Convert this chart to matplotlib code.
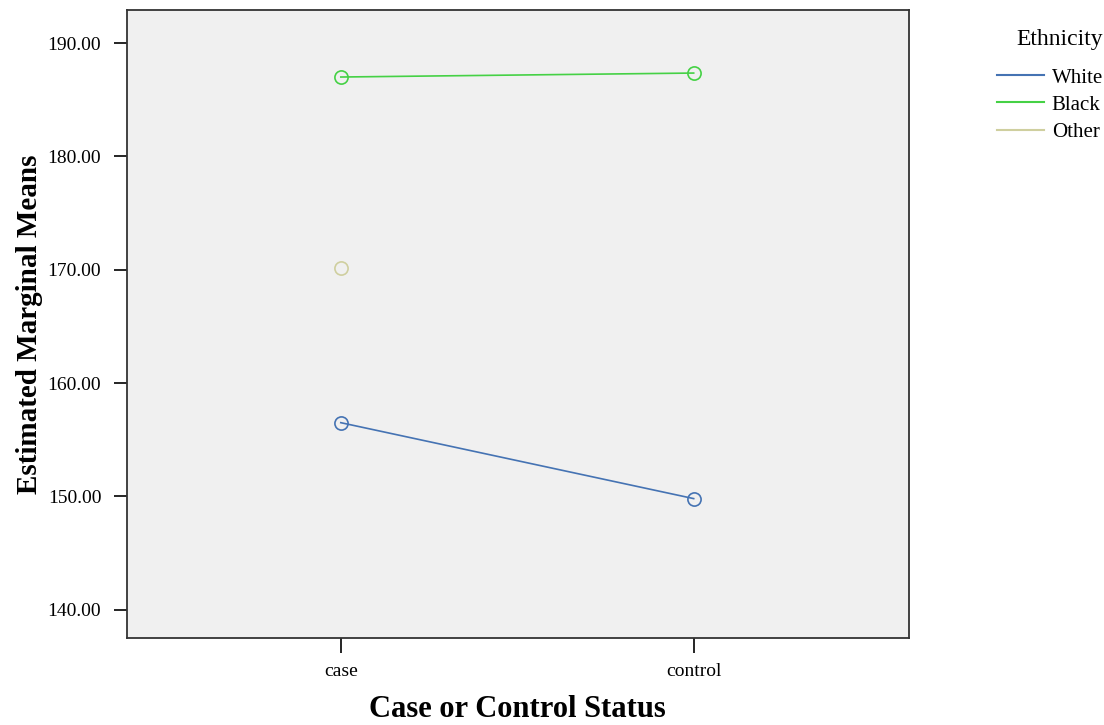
import matplotlib.pyplot as plt

# estimated marginal means
groups = ["case", "control"]
white = [156.5, 149.8]
black = [187.0, 187.35]
other = [170.15]
series_names = ["White", "Black", "Other"]
colors = ["#4573b3", "#45d145", "#cfcf9f"]

plt.rcParams['font.family'] = ['Liberation Serif', 'DejaVu Serif']

fig = plt.figure(figsize=(11.04, 7.25), dpi=100)
ax = fig.add_axes([0.115, 0.12, 0.708, 0.866])
ax.set_facecolor("#f0f0f0")

xs = list(range(len(groups)))
ax.plot(xs, white, color=colors[0], lw=1.2, marker="o", ms=9.5,
        mfc="none", mew=1.2, label=series_names[0])
ax.plot(xs, black, color=colors[1], lw=1.2, marker="o", ms=9.5,
        mfc="none", mew=1.2, label=series_names[1])
ax.plot(xs[:len(other)], other, color=colors[2], lw=1.2, marker="o", ms=9.5,
        mfc="none", mew=1.2, label=series_names[2])

ax.set_xlim(-0.606, 1.609)
ax.set_ylim(137.5, 192.9)
ax.set_xticks(xs)
ax.set_xticklabels(groups)
ax.set_yticks([140, 150, 160, 170, 180, 190])
ax.set_yticklabels(["%.2f" % v for v in [140, 150, 160, 170, 180, 190]])
ax.tick_params(direction="out", length=9.5, width=1.2, labelsize=14, colors="black")
ax.tick_params(axis="y", pad=9)
ax.tick_params(axis="x", pad=7, length=11)
for s in ax.spines.values():
    s.set_linewidth(1.3)
    s.set_color("#333333")

ax.set_xlabel("Case or Control Status", fontsize=22, fontweight="bold", labelpad=11)
ax.set_ylabel("Estimated Marginal Means", fontsize=21, fontweight="bold", labelpad=3)

# legend sits outside, right of the plot
handles = [plt.Line2D([], [], color=c, lw=1.5) for c in colors]
leg = fig.legend(handles, series_names, title="Ethnicity", loc="upper right",
                 bbox_to_anchor=(0.999, 0.96), frameon=False, fontsize=15,
                 title_fontsize=17, handlelength=2.25, handletextpad=0.35,
                 labelspacing=0.36, borderpad=0, borderaxespad=0)
leg._legend_box.align = "right"
leg._legend_box.sep = 13

fig.savefig("out.png", dpi=100, facecolor="white")
